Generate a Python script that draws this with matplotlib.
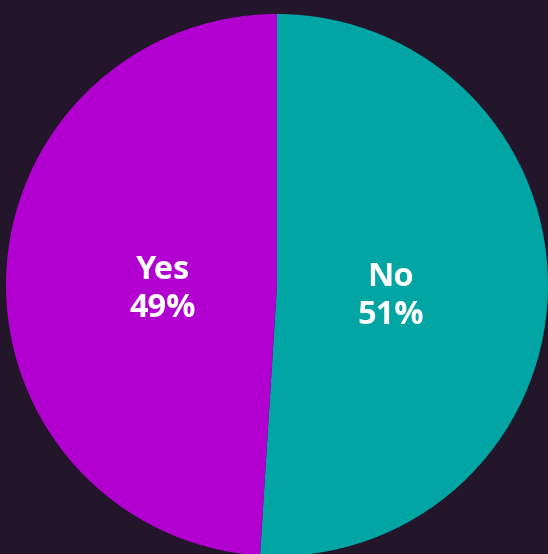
import numpy as np
import matplotlib
matplotlib.use("Agg")
import matplotlib.pyplot as plt

labels = ["No", "Yes"]
shares = [51, 49]
colors = ["#00a5a4", "#b200d1"]
bg = "#24162a"

fig = plt.figure(figsize=(5.48, 5.54), dpi=100, facecolor=bg)
ax = fig.add_axes([0, 0, 1, 1])
ax.set_facecolor(bg)

wedges, _ = ax.pie(shares, colors=colors, startangle=90, counterclock=False,
                   radius=1.0, wedgeprops=dict(linewidth=0))

# place the labels inside each wedge, centred
for w, lab, val in zip(wedges, labels, shares):
    mid = np.deg2rad((w.theta1 + w.theta2) / 2)
    d = 0.42
    ax.text(d * np.cos(mid), d * np.sin(mid) - 0.03, f"{lab}\n{val}%",
            ha="center", va="center", color="white", fontsize=23.5,
            fontweight="bold", family="Open Sans", linespacing=1.2)

# circle centre sits at about (277, 285) px, radius about 271 px
ax.set_xlim(-277 / 271, (548 - 277) / 271)
ax.set_ylim(-(554 - 285) / 271, 285 / 271)
ax.set_aspect("auto")
ax.axis("off")

fig.savefig("out.png", dpi=100, facecolor=bg)
